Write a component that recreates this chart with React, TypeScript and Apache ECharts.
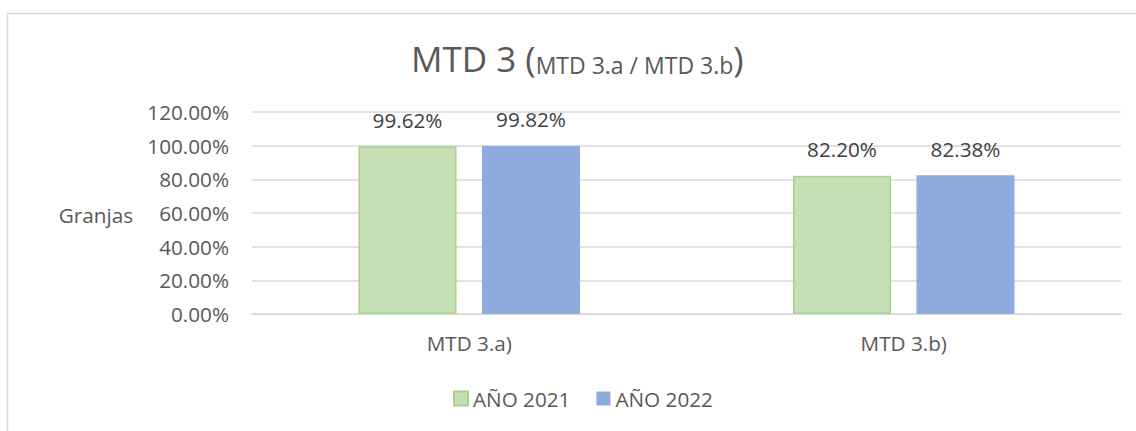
import React, { useEffect, useRef } from "react";
import * as echarts from "echarts";

const categories = ["MTD 3.a)", "MTD 3.b)"];
const seriesNames = ["AÑO 2021", "AÑO 2022"];
const values2021 = [99.62, 82.2];
const values2022 = [99.82, 82.38];
const yTicks = { min: 0, max: 120, interval: 20 };

const FONT = "'Open Sans', 'Noto Sans', sans-serif";
const FS = 20.7;

export default function App() {
  const ref = useRef<HTMLDivElement>(null);
  useEffect(() => {
    document.body.style.margin = "0";
    if (!ref.current) return;
    const chart = echarts.init(ref.current, null, { renderer: "svg" });
    const labelFmt = (p: any) => Number(p.value).toFixed(2) + "%";
    chart.setOption({
      animation: false,
      backgroundColor: "#ffffff",
      textStyle: { fontFamily: FONT },
      title: {
        left: 411,
        top: 34,
        padding: 0,
        text: "{a|MTD 3 (}{b|MTD 3.a / MTD 3.b}{a|)}",
        textStyle: {
          fontWeight: "normal",
          rich: {
            a: { fontSize: 35, fontWeight: "normal", color: "#595959", fontFamily: FONT, lineHeight: 42, verticalAlign: "bottom" },
            b: { fontSize: 23, fontWeight: "normal", color: "#595959", fontFamily: FONT, lineHeight: 42, verticalAlign: "bottom" },
          },
        },
      },
      legend: {
        left: 453,
        top: 388,
        padding: 0,
        itemWidth: 14,
        itemHeight: 14,
        itemGap: 26,
        icon: "rect",
        textStyle: { fontSize: FS, color: "#595959", fontFamily: FONT },
        data: seriesNames,
      },
      grid: { left: 252, right: 15, top: 112, bottom: 117 },
      xAxis: {
        type: "category",
        data: categories,
        axisTick: { show: false },
        axisLine: { show: true, lineStyle: { color: "#d9d9d9", width: 1.5 } },
        axisLabel: { fontSize: FS, color: "#595959", margin: 18, fontFamily: FONT },
      },
      yAxis: {
        type: "value",
        min: yTicks.min,
        max: yTicks.max,
        interval: yTicks.interval,
        axisLine: { show: false },
        axisTick: { show: false },
        splitLine: { lineStyle: { color: "#d9d9d9", width: 1.5 } },
        axisLabel: {
          fontSize: FS,
          color: "#595959",
          margin: 23,
          fontFamily: FONT,
          formatter: (v: number) => v.toFixed(2) + "%",
        },
      },
      graphic: [
        {
          type: "rect",
          shape: { x: 7.5, y: 13.5, width: 1300, height: 600 },
          style: { fill: "none", stroke: "#d9d9d9", lineWidth: 1.5 },
          silent: true,
          z: -1,
        },
        {
          type: "text",
          x: 133,
          y: 215,
          style: {
            text: "Granjas",
            fontSize: FS,
            fill: "#595959",
            fontFamily: FONT,
            align: "right",
            verticalAlign: "middle",
          },
        },
      ],
      series: [
        {
          name: seriesNames[0],
          type: "bar",
          data: values2021,
          barWidth: 98,
          barGap: "26%",
          itemStyle: { color: "#c5e0b4", borderColor: "#a9d18e", borderWidth: 1.5 },
          label: {
            show: true,
            position: "top",
            distance: 16,
            fontSize: FS,
            color: "#404040",
            fontFamily: FONT,
            formatter: labelFmt,
          },
        },
        {
          name: seriesNames[1],
          type: "bar",
          data: values2022,
          barWidth: 98,
          barGap: "26%",
          itemStyle: { color: "#8faadc" },
          label: {
            show: true,
            position: "top",
            distance: 16,
            fontSize: FS,
            color: "#404040",
            fontFamily: FONT,
            formatter: labelFmt,
          },
        },
      ],
    });
    return () => chart.dispose();
  }, []);
  return <div ref={ref} style={{ width: 1136, height: 431 }} />;
}
